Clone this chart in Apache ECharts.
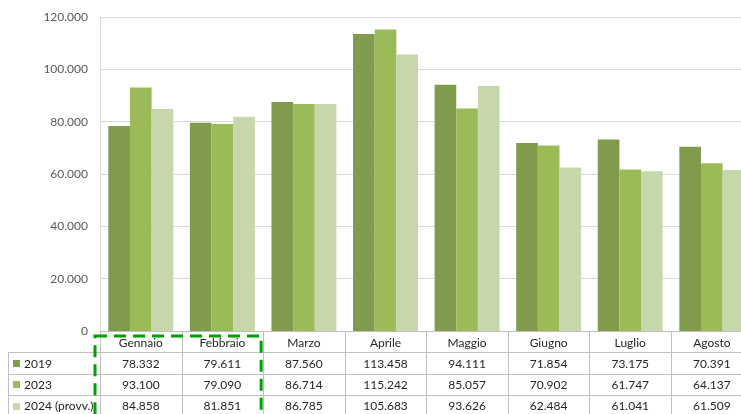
<!DOCTYPE html>
<html>
<head>
<meta charset="utf-8">
<script src="https://cdn.jsdelivr.net/npm/echarts@6/dist/echarts.min.js"></script>
<style>
html,body{margin:0;padding:0;background:#fff;overflow:hidden;width:741px;height:414px;}
#c{width:770px;height:414px;}
</style>
</head>
<body>
<div id="c"></div>
<script>
var months = ['Gennaio','Febbraio','Marzo','Aprile','Maggio','Giugno','Luglio','Agosto'];
var seriesNames = ['2019','2023','2024 (provv.)'];
var v2019 = [78332,79611,87560,113458,94111,71854,73175,70391];
var v2023 = [93100,79090,86714,115242,85057,70902,61747,64137];
var v2024 = [84858,81851,86785,105683,93626,62484,61041,61509];
var yTicks = [0,20000,40000,60000,80000,100000,120000];

var colors = ['#7F9B4B','#9BBB59','#C5D7AB'];
var FONT = 'Lato, "Liberation Sans", sans-serif';

function fmt(v){ return String(v).replace(/\B(?=(\d{3})+(?!\d))/g,'.'); }

var chart = echarts.init(document.getElementById('c'), null, {renderer:'canvas'});
var allSeries = [v2019, v2023, v2024];

chart.setOption({
  animation:false,
  color: colors,
  grid:{left:100, width:652.6, top:17, height:314, containLabel:false, outerBoundsMode:'none'},
  xAxis:{
    type:'category', data:months,
    axisLine:{show:true, lineStyle:{color:'#BFBFBF', width:1}},
    axisTick:{show:false},
    axisLabel:{show:false},
    splitLine:{show:false}
  },
  yAxis:{
    type:'value', min:yTicks[0], max:yTicks[yTicks.length-1], interval:20000,
    axisLine:{show:true, lineStyle:{color:'#D9D9D9'}},
    axisTick:{show:false},
    axisLabel:{color:'#595959', fontSize:12, fontFamily:FONT, margin:12, formatter:function(v){return fmt(v);}},
    splitLine:{show:true, lineStyle:{color:'#D9D9D9', width:1}}
  },
  series: seriesNames.map(function(n,i){
    return {name:n, type:'bar', data:allSeries[i], barGap:'0%', barCategoryGap:'20.4%',
      itemStyle:{color:colors[i]}, silent:true};
  })
});

var g = [];
var baseY = chart.convertToPixel({yAxisIndex:0}, 0);
var c0 = chart.convertToPixel({xAxisIndex:0}, 0);
var c1 = chart.convertToPixel({xAxisIndex:0}, 1);
var cw = c1 - c0;
var rowH = 21.3;
var rows = [baseY, baseY+rowH, baseY+2*rowH, baseY+3*rowH, baseY+4*rowH];
var lineColor = '#BFBFBF';
var textColor = '#262626';
var leftX = 8;
var rightX = 770;

for (var r=1; r<4; r++){
  g.push({type:'line', silent:true, shape:{x1:leftX, y1:Math.round(rows[r])+0.5, x2:rightX, y2:Math.round(rows[r])+0.5}, style:{stroke:lineColor, lineWidth:1}});
}
g.push({type:'line', silent:true, shape:{x1:leftX+0.5, y1:Math.round(rows[1]), x2:leftX+0.5, y2:420}, style:{stroke:lineColor, lineWidth:1}});
for (var k=0; k<=months.length; k++){
  var bx = Math.round(c0 - cw/2 + k*cw) + 0.5;
  g.push({type:'line', silent:true, shape:{x1:bx, y1:baseY, x2:bx, y2:420}, style:{stroke:lineColor, lineWidth:1}});
}
months.forEach(function(m,i){
  var cx = chart.convertToPixel({xAxisIndex:0}, i);
  g.push({type:'text', silent:true, style:{text:m, x:cx, y:(rows[0]+rows[1])/2+1, align:'center', verticalAlign:'middle', fill:textColor, fontSize:12, fontFamily:FONT}});
  allSeries.forEach(function(arr,s){
    g.push({type:'text', silent:true, style:{text:fmt(arr[i]), x:cx, y:(rows[s+1]+rows[s+2])/2+1, align:'center', verticalAlign:'middle', fill:textColor, fontSize:12, fontFamily:FONT}});
  });
});
seriesNames.forEach(function(n,s){
  var cy = (rows[s+1]+rows[s+2])/2;
  g.push({type:'rect', silent:true, shape:{x:13, y:Math.round(cy)-3, width:7, height:7}, style:{fill:colors[s]}});
  g.push({type:'text', silent:true, style:{text:n, x:24, y:cy+1, align:'left', verticalAlign:'middle', fill:textColor, fontSize:12, fontFamily:FONT}});
});
var hx0 = c0 - cw/2 - 5;
var hx1 = c0 - cw/2 + 2*cw - 2;
g.push({type:'rect', silent:true, z:100, shape:{x:hx0, y:baseY+5, width:hx1-hx0, height:120}, style:{fill:'none', stroke:'#00A000', lineWidth:3, lineDash:[12,7]}});

chart.setOption({graphic:{elements:g}});
</script>
</body>
</html>
